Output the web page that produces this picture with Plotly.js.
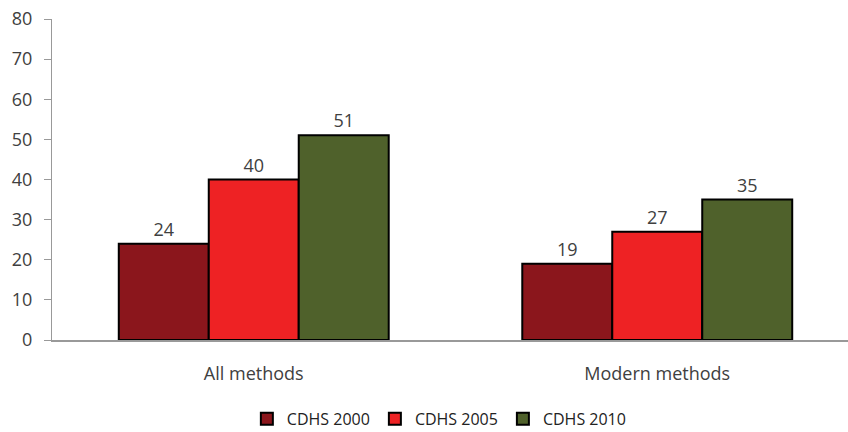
<!DOCTYPE html>
<html>
<head>
<meta charset="utf-8">
<script src="https://cdn.plot.ly/plotly-3.0.1.min.js"></script>
<style>html,body{margin:0;padding:0;background:#fff;overflow:hidden;}#wrap{width:848px;height:432px;overflow:hidden;}#chart{width:859px;height:432px;}</style>
</head>
<body>
<div id="wrap"><div id="chart"></div></div>
<script>
const categories = ["All methods", "Modern methods"];
const seriesNames = ["CDHS 2000", "CDHS 2005", "CDHS 2010"];
const cdhs2000 = [24, 19];
const cdhs2005 = [40, 27];
const cdhs2010 = [51, 35];
const colors = ["#8B161C", "#EE2224", "#4F612B"];
const yTicks = [0, 10, 20, 30, 40, 50, 60, 70, 80];

const font = "Open Sans, Noto Sans, sans-serif";
const seriesValues = [cdhs2000, cdhs2005, cdhs2010];
const traces = seriesValues.map((vals, i) => ({
  type: "bar",
  name: seriesNames[i],
  x: categories,
  y: vals,
  text: vals.map(String),
  textposition: "outside",
  cliponaxis: false,
  textfont: {family: font, size: 18, color: "#404040"},
  marker: {color: colors[i], line: {color: "#000", width: 2}}
}));

const layout = {
  width: 859, height: 432,
  margin: {l: 52, r: 0, t: 19, b: 92, autoexpand: false},
  paper_bgcolor: "#fff", plot_bgcolor: "#fff",
  barmode: "group", bargap: 0.331, bargroupgap: 0,
  font: {family: font, size: 18, color: "#404040"},
  showlegend: true,
  legend: {orientation: "h", x: 0.48, xanchor: "center", y: -0.193, yanchor: "top",
           font: {family: font, size: 16, color: "#222"}, itemwidth: 30, traceorder: "normal"},
  xaxis: {type: "category", showline: true, linecolor: "#999", linewidth: 1.5,
          ticks: "", showgrid: false, zeroline: false, ticklabelstandoff: 17,
          tickfont: {family: font, size: 18, color: "#404040"}},
  yaxis: {range: [0, 80], tickvals: yTicks, ticktext: yTicks.map(String),
          showline: true, linecolor: "#999", linewidth: 1, ticks: "outside", ticklen: 7, tickcolor: "#999",
          showgrid: false, zeroline: false, ticklabelstandoff: 8,
          tickfont: {family: font, size: 18, color: "#404040"}}
};
Plotly.newPlot("chart", traces, layout, {displayModeBar: false, staticPlot: true});
</script>
</body>
</html>
